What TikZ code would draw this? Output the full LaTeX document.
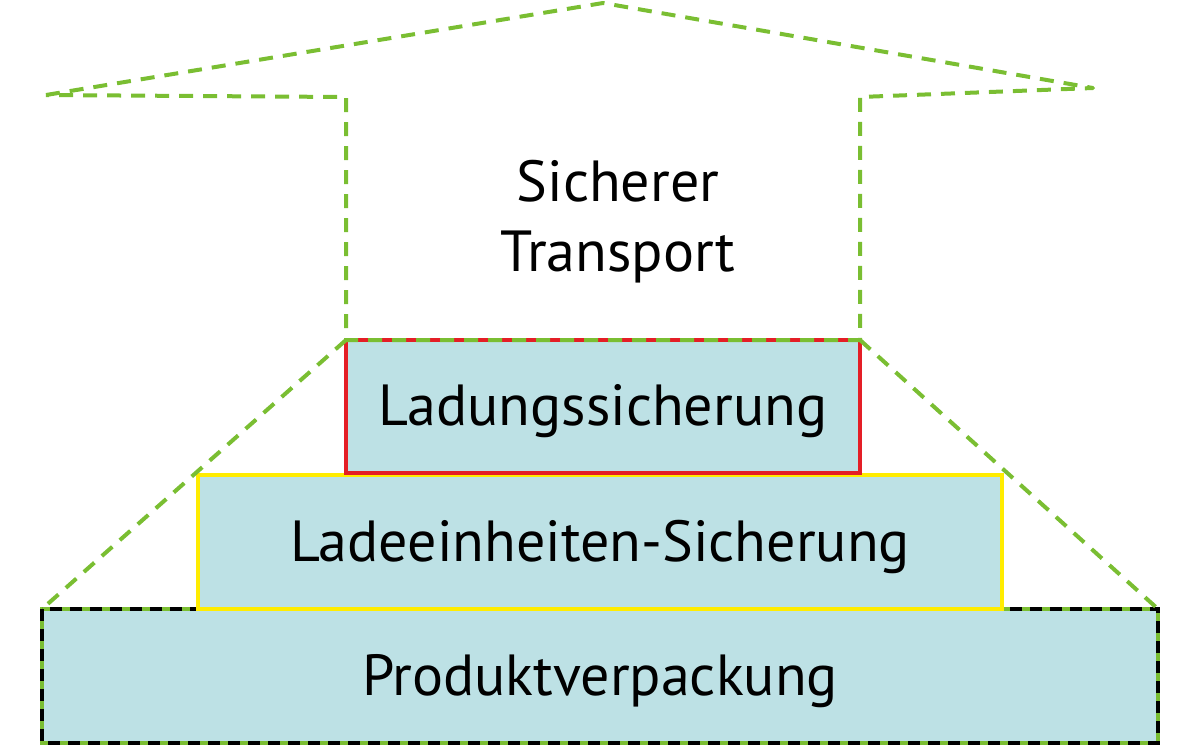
\documentclass[tikz,border=0pt]{standalone}
\usepackage{fontspec}
\setmainfont{PT Sans}
\definecolor{grn}{RGB}{122,190,50}
\definecolor{boxfill}{RGB}{189,225,229}
\definecolor{rd}{RGB}{228,30,38}
\definecolor{yl}{RGB}{255,236,0}
\tikzset{
  gdash/.style={draw=grn, line width=2pt, line join=round, dash pattern=on 7pt off 5pt},
  tier/.style={fill=boxfill, line width=2pt},
  lbl/.style={font=\fontsize{29}{35}\selectfont},
}
\begin{document}
\begin{tikzpicture}[x=0.5pt,y=-0.5pt]
\useasboundingbox (0,0) rectangle (1200,746);
% boxes
\path[tier, draw=grn] (42,609) rectangle (1158,743);
\draw[black, line width=2pt, dash pattern=on 6pt off 4pt] (42,609) rectangle (1158,743);
\node[tier, draw=yl, minimum width=402pt, minimum height=67pt] (mid) at (600,542) {};
\node[tier, draw=rd, minimum width=257pt, minimum height=66.5pt] (top) at (603,406.5) {};
\node[lbl] (bot) at (600,681) {Produktverpackung};
\node[lbl] (midl) at (600,547) {Ladeeinheiten-Sicherung};
\node[lbl] (topl) at (603,411) {Ladungssicherung};
% house outline
\coordinate (lt) at (46,95);
\coordinate (ap) at (603,3);
\coordinate (rt) at (1093,88);
\coordinate (lh) at (346,97);
\coordinate (rh) at (860,97);
\coordinate (lb) at (346,340);
\coordinate (rb) at (860,340);
\coordinate (bl) at (42,609);
\coordinate (br) at (1158,609);
\draw[gdash] (lt) -- (ap) -- (rt) -- (rh) -- (rb) -- (lb) -- (lh) -- (lt);
\draw[gdash] (lb) -- (bl);
\draw[gdash] (rb) -- (br);
\node[align=center, lbl] (title) at (618,222) {Sicherer\\Transport};
\end{tikzpicture}
\end{document}
